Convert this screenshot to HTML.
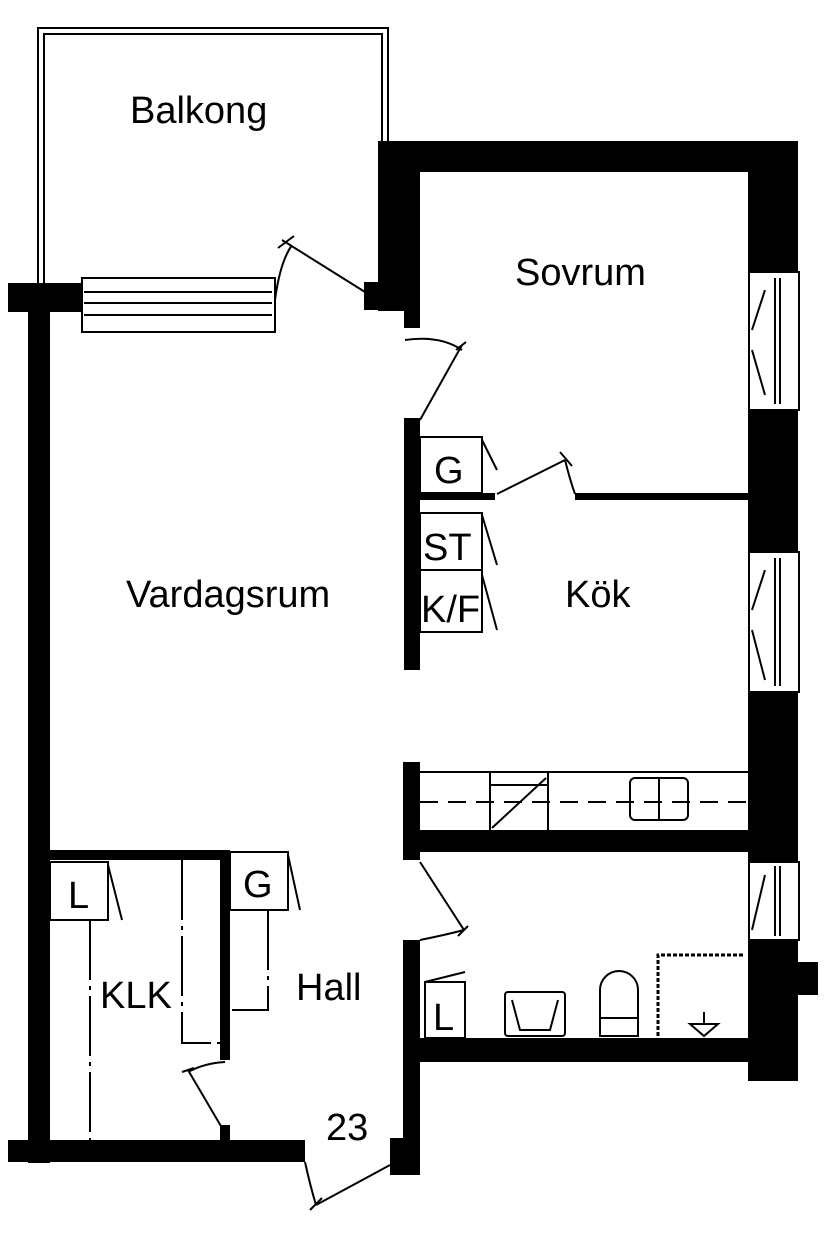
<!DOCTYPE html>
<html><head><meta charset="utf-8"><style>body{margin:0;background:#fff}svg{display:block}text{font-family:"Liberation Sans",sans-serif;fill:#000}</style></head><body>
<svg width="829" height="1238" viewBox="0 0 829 1238" xmlns="http://www.w3.org/2000/svg">
<g fill="none" stroke="#000" stroke-width="2">
<path d="M38 285 V28 H388 V143"/>
<path d="M44 285 V34 H382 V143"/>
</g>
<g fill="#000">
<rect x="378" y="141" width="420" height="31"/>
<rect x="378" y="141" width="26" height="170"/>
<rect x="404" y="141" width="16" height="187"/>
<rect x="364" y="282" width="30" height="28"/>
<rect x="748" y="141" width="50" height="940"/>
<rect x="770" y="962" width="48" height="33"/>
<rect x="8" y="283" width="74" height="29"/>
<rect x="28" y="283" width="22" height="880"/>
<rect x="8" y="1140" width="297" height="22"/>
<rect x="390" y="1138" width="30" height="37"/>
<rect x="404" y="418" width="16" height="252"/>
<rect x="420" y="493" width="75" height="7"/>
<rect x="575" y="493" width="173" height="7"/>
<rect x="403" y="762" width="17" height="98"/>
<rect x="420" y="830" width="328" height="22"/>
<rect x="403" y="940" width="17" height="212"/>
<rect x="420" y="1038" width="328" height="24"/>
<rect x="50" y="850" width="180" height="10"/>
<rect x="220" y="850" width="10" height="210"/>
<rect x="220" y="1125" width="10" height="15"/>
</g>
<g fill="#fff" stroke="#000" stroke-width="2">
<rect x="82" y="278" width="193" height="54"/>
<rect x="749" y="272" width="50" height="138"/>
<rect x="749" y="552" width="50" height="140"/>
<rect x="749" y="862" width="50" height="78"/>
<rect x="420" y="437" width="62" height="56"/>
<rect x="420" y="513" width="62" height="57"/>
<rect x="420" y="570" width="62" height="62"/>
<rect x="50" y="862" width="58" height="58"/>
<rect x="230" y="852" width="58" height="58"/>
<rect x="425" y="982" width="40" height="56"/>
<rect x="630" y="778" width="58" height="42" rx="5"/>
<rect x="505" y="992" width="60" height="44" rx="3"/>
<path d="M600 1036 V990 A18 18 0 0 1 638 990 V1036 Z"/>
</g>
<g fill="none" stroke="#000" stroke-width="2">
<path d="M84 292 H272 M84 303 H272 M84 315 H272"/>
<path d="M775 278 V404 M780 278 V404 M775 558 V686 M780 558 V686 M775 866 V936 M780 866 V936"/>
<path d="M765 290 L752 330 M752 350 L765 395 M765 570 L752 610 M752 630 L765 680 M765 875 L752 930"/>
<path d="M420 772 H748"/>
<path d="M490 772 V830 M548 772 V830 M490 785 H548 M492 828 L546 778 M659 778 V820"/>
<path d="M420 802 H748" stroke-dasharray="18 10"/>
<path d="M275 300 Q280 262 292 245 M282 240 L365 292 M278 248 L294 236"/>
<path d="M405 340 Q440 335 462 350 M462 345 L420 420 M456 350 L466 342"/>
<path d="M497 494 L565 460 M560 452 L572 466 M565 460 Q570 480 575 494"/>
<path d="M420 862 L464 930 M420 940 Q445 935 464 930 M458 936 L468 926"/>
<path d="M225 1062 Q205 1063 188 1072 M225 1133 L188 1070 M182 1072 L194 1068"/>
<path d="M305 1162 Q310 1185 316 1205 M316 1205 L390 1165 M310 1210 L322 1198"/>
<path d="M482 440 L497 470 M482 515 L497 565 M482 575 L497 630 M108 865 L122 920 M288 855 L300 910 M425 982 L465 972"/>
<path d="M90 920 V1140 M182 860 V1043 H220 M268 910 V1010 H232" stroke-dasharray="60 6 4 6"/>
<path d="M658 1036 V955 H745" stroke-dasharray="4 2" stroke-width="3"/>
<path d="M690 1024 H718 L704 1036 Z M704 1024 V1012"/>
<path d="M512 1000 L520 1030 H550 L558 1000"/>
<path d="M600 1018 H638"/>
</g>
<g font-size="38">
<text x="130" y="123">Balkong</text>
<text x="515" y="285">Sovrum</text>
<text x="126" y="607">Vardagsrum</text>
<text x="565" y="607">Kök</text>
<text x="100" y="1008">KLK</text>
<text x="296" y="1000">Hall</text>
<text x="326" y="1140">23</text>
<text x="434" y="483">G</text>
<text x="423" y="560">ST</text>
<text x="421" y="622">K/F</text>
<text x="68" y="908">L</text>
<text x="243" y="897">G</text>
<text x="433" y="1030">L</text>
</g>
</svg>
</body></html>
